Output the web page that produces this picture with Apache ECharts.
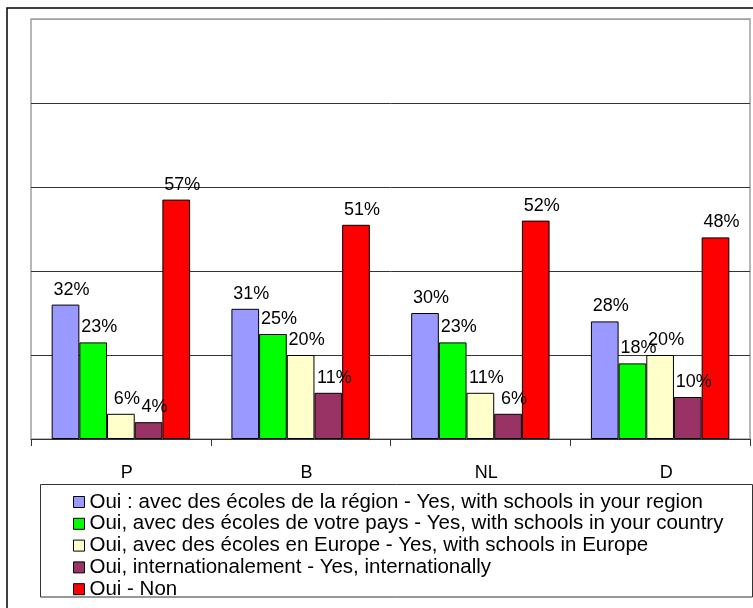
<!DOCTYPE html>
<html>
<head>
<meta charset="utf-8">
<script src="https://cdn.jsdelivr.net/npm/echarts@6/dist/echarts.min.js"></script>
<style>
  html, body { margin: 0; padding: 0; background: #fff; }
  #chart { width: 753px; height: 608px; }
</style>
</head>
<body>
<div id="chart"></div>
<script>
// Survey answers per country, in percent
const categories = ['P', 'B', 'NL', 'D'];
const seriesNames = [
  'Oui : avec des écoles de la région - Yes, with schools in your region',
  'Oui, avec des écoles de votre pays - Yes, with schools in your country',
  'Oui, avec des écoles en Europe - Yes, with schools in Europe',
  'Oui, internationalement - Yes, internationally',
  'Oui - Non'
];
const regionValues = [32, 31, 30, 28];
const countryValues = [23, 25, 23, 18];
const europeValues = [6, 20, 11, 20];
const internationalValues = [4, 11, 6, 10];
const ouiNonValues = [57, 51, 52, 48];

const seriesValues = [regionValues, countryValues, europeValues, internationalValues, ouiNonValues];
const seriesColors = ['#9999FF', '#00FF00', '#FFFFCC', '#993366', '#FF0000'];
const FONT = "'Liberation Sans', Arial, sans-serif";

const chart = echarts.init(document.getElementById('chart'), null, { renderer: 'canvas' });

chart.setOption({
  animation: false,
  backgroundColor: '#fff',
  textStyle: { fontFamily: FONT },
  grid: {
    left: 31, top: 19, right: 3, bottom: 169,
    show: true, borderColor: '#a0a0a0', borderWidth: 1.5, backgroundColor: 'transparent'
  },
  xAxis: {
    type: 'category',
    data: categories,
    boundaryGap: true,
    axisLine: { show: true, lineStyle: { color: '#333', width: 1 } },
    axisTick: { show: true, length: 7, lineStyle: { color: '#333' } },
    axisLabel: {
      color: '#000', fontSize: 18, fontFamily: FONT, margin: 25,
      padding: [0, 0, 0, 12]
    },
    splitLine: { show: false }
  },
  yAxis: {
    type: 'value',
    min: 0, max: 100, interval: 20,
    axisLine: { show: false },
    axisTick: { show: false },
    axisLabel: { show: false },
    splitLine: {
      show: true,
      lineStyle: { color: ['#333', '#333', '#333', '#333', '#333', '#a0a0a0'], width: 1 }
    }
  },
  legend: {
    orient: 'vertical',
    left: 73, top: 491.5,
    padding: 0,
    itemWidth: 11, itemHeight: 11, itemGap: 0.8,
    icon: 'rect',
    itemStyle: { borderColor: '#000', borderWidth: 1 },
    textStyle: { color: '#000', fontSize: 20.5, fontFamily: FONT, lineHeight: 20.5 },
    selectedMode: false
  },
  graphic: [
    {
      type: 'rect', silent: true, z: 100,
      shape: { x: 7, y: 8, width: 800, height: 700 },
      style: { fill: 'none', stroke: '#000', lineWidth: 1.5 }
    },
    {
      type: 'rect', silent: true, z: 100,
      shape: { x: 40.5, y: 484.5, width: 712, height: 112.5 },
      style: { fill: 'none', stroke: '#333', lineWidth: 1 }
    }
  ],
  series: seriesNames.map((name, i) => ({
    name: name,
    type: 'bar',
    data: seriesValues[i],
    barGap: '0%',
    barCategoryGap: '23%',
    itemStyle: { color: seriesColors[i], borderColor: '#000', borderWidth: 1 },
    label: {
      show: true,
      position: 'top',
      distance: 6,
      offset: [6, 0],
      formatter: '{c}%',
      color: '#000',
      fontSize: 18,
      fontFamily: FONT
    }
  }))
});
</script>
</body>
</html>
